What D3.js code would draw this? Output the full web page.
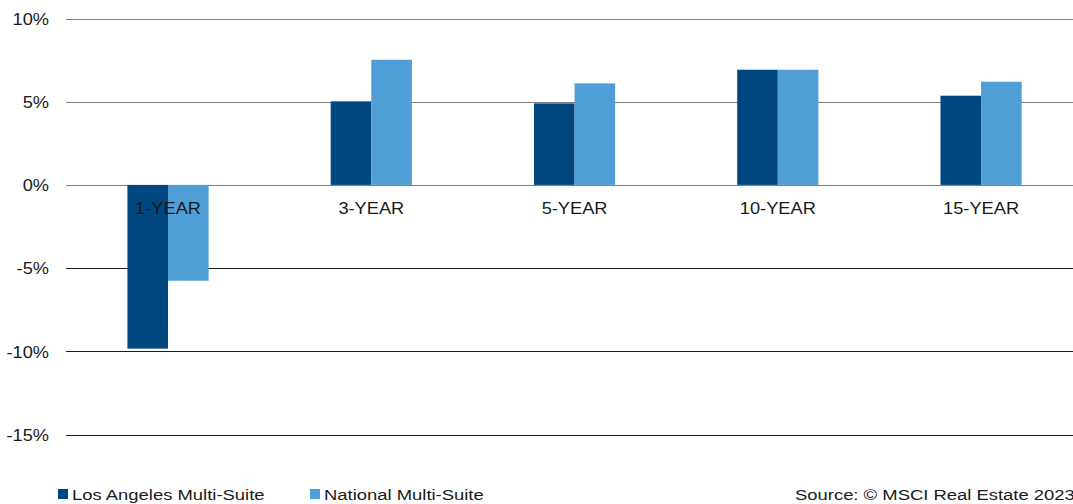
<!DOCTYPE html>
<html>
<head>
<meta charset="utf-8">
<script src="https://cdn.jsdelivr.net/npm/d3@7"></script>
<style>
  html, body { margin: 0; padding: 0; background: #fff; overflow: hidden; }
  svg { display: block; font-family: "Liberation Sans", Arial, sans-serif; }
</style>
</head>
<body>
<svg id="chart" width="1073" height="504"></svg>
<script>
// Annualised total returns by horizon (%)
const periods = ["1-YEAR", "3-YEAR", "5-YEAR", "10-YEAR", "15-YEAR"];
const seriesNames = ["Los Angeles Multi-Suite", "National Multi-Suite"];
const losAngeles = [-9.84, 5.02, 4.9, 6.92, 5.36];
const national = [-5.76, 7.52, 6.1, 6.92, 6.2];
const yTicks = [10, 5, 0, -5, -10, -15];
const colors = ["#00467f", "#4f9fd6"];
const sourceNote = "Source: \u00a9 MSCI Real Estate 2023";

// text in this chart is set slightly wide
const wide = "scale(1.14,1)";
const wideLegend = "scale(1.19,1)";

const svg = d3.select("#chart");

const x = d3.scaleBand().domain(periods).range([66.4, 1082.7]).paddingInner(0).paddingOuter(0);
const barW = 40.6;
const x1 = d3.scaleBand().domain(seriesNames)
  .range([x.bandwidth() / 2 - barW, x.bandwidth() / 2 + barW]);

const y = d3.scaleLinear().domain([-15, 10]).range([434.5, 18.5]);

// gridlines: upper ones grey, lower ones dark
const grid = svg.append("g");
grid.selectAll("line").data(yTicks).join("line")
  .attr("x1", 66).attr("x2", 1073)
  .attr("y1", d => Math.round(y(d)) + 0.5).attr("y2", d => Math.round(y(d)) + 0.5)
  .attr("stroke", d => d >= 0 ? "#7f7f7f" : "#1a1a1a")
  .attr("stroke-width", 1.2);

// y axis tick labels
const yAxis = d3.axisLeft(y).tickValues(yTicks).tickFormat(d => d + "%").tickSize(0).tickPadding(0);
const yg = svg.append("g").attr("transform", "translate(49,0)").call(yAxis);
yg.select(".domain").remove();
yg.selectAll("text")
  .attr("font-size", 16).attr("fill", "#1a1a1a")
  .attr("font-family", "Liberation Sans, Arial, sans-serif")
  .attr("dy", null).attr("y", 5.8)
  .attr("transform", wide);

// bars
const rows = periods.map((p, i) => ({ period: p, values: [losAngeles[i], national[i]] }));
const groups = svg.append("g").selectAll("g").data(rows).join("g")
  .attr("transform", d => `translate(${x(d.period)},0)`);
groups.selectAll("rect").data(d => d.values.map((v, j) => ({ name: seriesNames[j], v, j })))
  .join("rect")
  .attr("x", d => x1(d.name))
  .attr("width", x1.bandwidth())
  .attr("y", d => y(Math.max(0, d.v)))
  .attr("height", d => Math.abs(y(d.v) - y(0)))
  .attr("fill", d => colors[d.j]);

// category labels just below the zero line
svg.append("g").selectAll("text").data(periods).join("text")
  .attr("transform", d => `translate(${x(d) + x.bandwidth() / 2},${y(0) + 29}) ${wide}`)
  .attr("text-anchor", "middle")
  .attr("font-size", 16)
  .attr("fill", "#1a1a1a")
  .text(d => d);

// legend
const legendX = [58, 310];
const legend = svg.append("g").selectAll("g").data(seriesNames).join("g")
  .attr("transform", (d, i) => `translate(${legendX[i]},489)`);
legend.append("rect").attr("width", 10).attr("height", 10).attr("fill", (d, i) => colors[i]);
legend.append("text")
  .attr("transform", `translate(14,10.7) ${wideLegend}`)
  .attr("font-size", 15.5)
  .attr("fill", "#1a1a1a").text(d => d);

svg.append("text")
  .attr("transform", `translate(795,499.5) ${wideLegend}`)
  .attr("font-size", 15.5)
  .attr("fill", "#1a1a1a").text(sourceNote);
</script>
</body>
</html>
